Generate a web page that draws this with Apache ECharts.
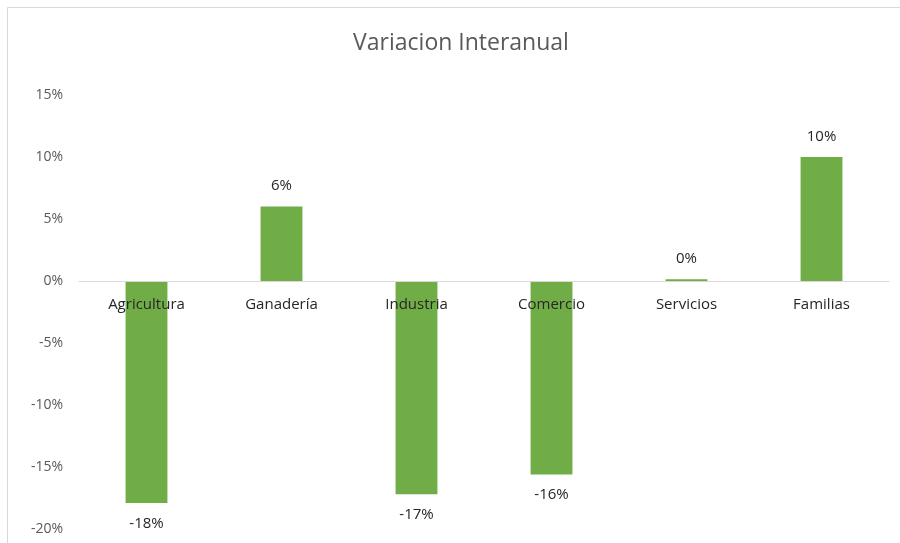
<!DOCTYPE html>
<html>
<head>
<meta charset="utf-8">
<script src="https://cdn.jsdelivr.net/npm/echarts@6/dist/echarts.min.js"></script>
<style>html,body{margin:0;padding:0;background:#fff}#c{width:900px;height:543px}</style>
</head>
<body>
<div id="c"></div>
<script>
var categories = ['Agricultura', 'Ganadería', 'Industria', 'Comercio', 'Servicios', 'Familias'];
var values = [-17.9, 6.0, -17.2, -15.6, 0.15, 10.0];
var yTicks = [-20, -15, -10, -5, 0, 5, 10, 15];

var chart = echarts.init(document.getElementById('c'));
chart.setOption({
  animation: false,
  backgroundColor: '#fff',
  title: {
    text: 'Variacion Interanual',
    left: 456, top: 27, textAlign: 'center',
    textStyle: { fontFamily: 'Open Sans', fontSize: 23, fontWeight: 'normal', color: '#595959' }
  },
  graphic: [{
    type: 'rect', shape: { x: 7.5, y: 7.5, width: 900, height: 600 },
    style: { fill: 'none', stroke: '#d9d9d9', lineWidth: 1 }, silent: true
  }],
  grid: { left: 79, right: 11, top: 95, bottom: 14, containLabel: false, outerBoundsMode: 'none' },
  xAxis: {
    type: 'category', data: categories, z: 10, position: 'bottom', offset: -248,
    axisLine: { onZero: false, lineStyle: { color: '#d9d9d9', width: 1 } },
    axisTick: { show: false },
    axisLabel: { margin: 16, fontFamily: 'Open Sans', fontSize: 15, color: '#262626' }
  },
  yAxis: {
    type: 'value', min: yTicks[0], max: yTicks[yTicks.length - 1], interval: 5,
    axisLine: { show: false }, axisTick: { show: false }, splitLine: { show: false },
    axisLabel: { margin: 16, fontFamily: 'Open Sans', fontSize: 14, color: '#595959',
      formatter: function (v) { return v + '%'; } }
  },
  series: [{
    type: 'bar', barWidth: '31%',
    itemStyle: { color: '#70ad47' },
    data: values.map(function (v) {
      return { value: v, label: { position: v >= 0 ? 'top' : 'bottom' } };
    }),
    label: {
      show: true, distance: 13, fontFamily: 'Open Sans', fontSize: 15, color: '#262626',
      formatter: function (p) { return Math.round(p.value) + '%'; }
    }
  }]
});
</script>
</body>
</html>
